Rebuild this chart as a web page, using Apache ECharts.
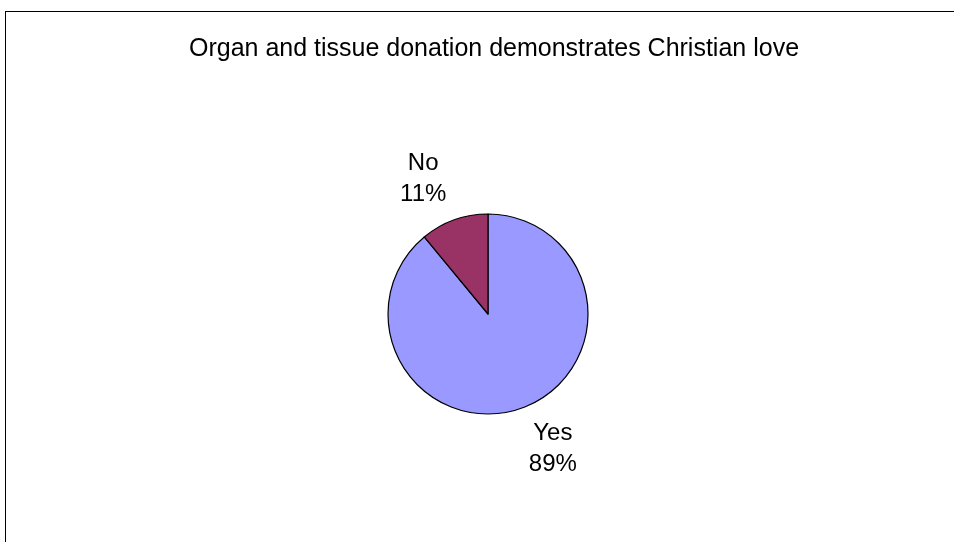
<!DOCTYPE html>
<html>
<head>
<meta charset="utf-8">
<script src="https://cdn.jsdelivr.net/npm/echarts@6/dist/echarts.min.js"></script>
<style>
html,body{margin:0;padding:0;background:#fff;}
#frame{position:absolute;left:5px;top:11px;width:1000px;height:600px;border-left:1px solid #000;border-top:1px solid #000;box-sizing:border-box;}
#chart{position:absolute;left:0;top:0;width:954px;height:542px;}
</style>
</head>
<body>
<div id="frame"></div>
<div id="chart"></div>
<script>
const titleText = 'Organ and tissue donation demonstrates Christian love';
const categories = ['Yes', 'No'];
const values = [89, 11];
const colors = ['#9999FF', '#993366'];

const CX = 488, CY = 314, R = 100;
const LABEL_DIST = 150, LABEL_ROT = 5.8;
const total = values.reduce((a, b) => a + b, 0);

function midAngle(idx) {
  let before = 0;
  for (let i = 0; i < idx; i++) before += values[i];
  const mid = before + values[idx] / 2;
  return 90 - mid / total * 360; // clockwise from 12 o'clock, degrees
}

const chart = echarts.init(document.getElementById('chart'), null, {renderer: 'canvas'});
chart.setOption({
  backgroundColor: 'transparent',
  animation: false,
  title: {
    text: titleText,
    left: 489,
    textAlign: 'center',
    top: 32,
    textStyle: {fontFamily: 'Liberation Sans', fontSize: 25, fontWeight: 'normal', color: '#000'}
  },
  series: [{
    type: 'pie',
    center: [CX, CY],
    radius: R,
    startAngle: 90,
    clockwise: true,
    data: categories.map((c, i) => ({name: c, value: values[i], itemStyle: {color: colors[i]}})),
    itemStyle: {borderColor: '#000', borderWidth: 1.2},
    label: {
      show: true,
      position: 'outside',
      formatter: '{b}\n{d}%',
      fontFamily: 'Liberation Sans',
      fontSize: 24,
      lineHeight: 31,
      color: '#000',
      align: 'center'
    },
    labelLine: {show: false},
    labelLayout: function (p) {
      const a = (midAngle(p.dataIndex) + LABEL_ROT) * Math.PI / 180;
      return {
        x: CX + Math.cos(a) * LABEL_DIST,
        y: CY - Math.sin(a) * LABEL_DIST,
        align: 'center',
        verticalAlign: 'middle'
      };
    },
    emphasis: {disabled: true}
  }]
});
</script>
</body>
</html>
